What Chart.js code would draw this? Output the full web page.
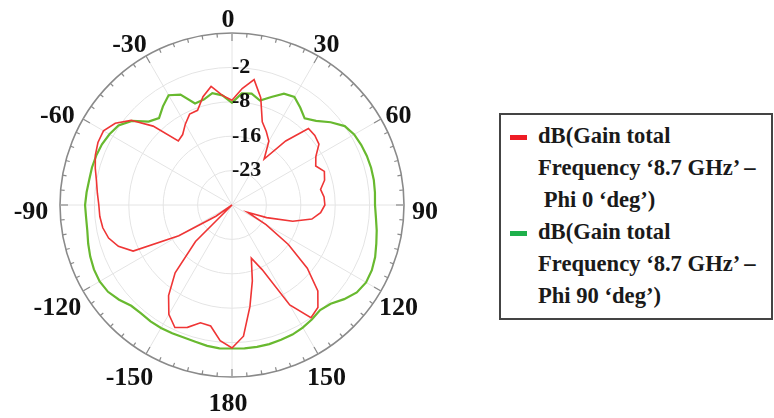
<!DOCTYPE html>
<html>
<head>
<meta charset="utf-8">
<script src="https://cdn.jsdelivr.net/npm/chart.js@4.4.0/dist/chart.umd.min.js"></script>
<style>
  html, body { margin: 0; padding: 0; background: #fff; }
  #wrap { position: relative; width: 774px; height: 418px; overflow: hidden; }
  #polar { position: absolute; left: 0; top: 0; }
  .legend {
    position: absolute; left: 499px; top: 113px; width: 274px; height: 207px;
    box-sizing: border-box; border: 2px solid #444; padding: 5px 0 0 37px;
    font-family: "Liberation Serif", "Times New Roman", serif; font-weight: bold;
    font-size: 22.6px; line-height: 32px; color: #1a1a1a; white-space: nowrap;
  }
  .swatch { position: absolute; left: 9px; width: 17px; height: 5px; }
</style>
</head>
<body>
<div id="wrap">
  <canvas id="polar" width="490" height="418"></canvas>
  <div class="legend" id="legend"></div>
</div>
<script>
// theta in degrees, 0 at top, clockwise
const angles = [0, 5, 10, 15, 20, 25, 30, 35, 40, 45, 50, 55, 60, 65, 70, 75, 80, 85,
  90, 95, 100, 105, 110, 115, 120, 125, 130, 135, 140, 145, 150, 155, 160, 165, 170, 175,
  180, 185, 190, 195, 200, 205, 210, 215, 220, 225, 230, 235, 240, 245, 250, 255, 260, 265,
  270, 275, 280, 285, 290, 295, 300, 305, 310, 315, 320, 325, 330, 335, 340, 345, 350, 355];

const angleLabels = ['0', '30', '60', '90', '120', '150', '180', '-150', '-120', '-90', '-60', '-30'];
const angleLabelAt = [0, 30, 60, 90, 120, 150, 180, 210, 240, 270, 300, 330];

const tickValues = [-23, -16, -9, -2];
const tickLabels = ['-23', '-16', '-8', '-2'];

// dB(Gain total) Phi 0
const phi0Gain = [-8.7, -6.2, -4.1, -7.4, -12.0, -13.5, -15.0, -18.6, -13.0, -8.0, -8.0, -8.4,
  -10.3, -11.2, -10.0, -10.5, -11.7, -11.2, -11.1, -11.9, -13.5, -17.2, -22.5, -26.5,
  -22.0, -16.0, -10.0, -5.3, -2.8, -2.0, -6.5, -15.5, -18.5, -14.0, -9.0, -3.2,
  -0.9, -2.3, -5.0, -5.2, -3.5, -2.5, -4.3, -7.5, -12.0, -19.5, -30.0, -26.0,
  -17.5, -7.8, -5.4, -4.0, -3.3, -3.0, -2.9, -2.5, -2.0, -1.2, -0.4, 0.1,
  0.2, -1.0, -3.2, -7.3, -13.0, -12.5, -11.0, -9.6, -9.5, -7.2, -5.5, -7.6];

// dB(Gain total) Phi 90
const phi90Gain = [-9.2, -7.2, -7.0, -8.0, -6.6, -5.0, -4.6, -5.8, -7.0, -5.8, -3.8, -2.0,
  -1.3, -1.0, -0.8, -0.7, -0.7, -0.8, -0.9, -0.6, -0.1, 0.4, 1.0, 1.4,
  1.5, 1.0, -0.2, -1.6, -2.1, -1.6, -1.2, -0.9, -0.8, -0.7, -0.7, -0.7,
  -0.8, -0.7, -0.9, -1.2, -1.3, -1.2, -1.1, -1.1, -1.2, -1.0, 0.0, 0.8,
  1.1, 1.0, 0.7, 0.3, -0.1, -0.2, -0.1, -0.3, -0.5, -0.5, -0.6, -0.8,
  -1.2, -1.8, -3.4, -6.0, -6.9, -5.5, -4.2, -5.2, -8.0, -7.8, -6.9, -7.6];

const seriesNames = [
  ['dB(Gain total', 'Frequency \u20188.7 GHz\u2019 \u2013', '\u00a0Phi 0 \u2018deg\u2019)'],
  ['dB(Gain total', 'Frequency \u20188.7 GHz\u2019 \u2013', 'Phi 90 \u2018deg\u2019)']
];
const lineColors = ['#ef3535', '#68b92f'];
const swatchColors = ['#ee1c25', '#1eb04b'];

// legend
const legend = document.getElementById('legend');
seriesNames.forEach((lines, k) => {
  const sw = document.createElement('div');
  sw.className = 'swatch';
  sw.style.background = swatchColors[k];
  sw.style.top = (20 + k * 96) + 'px';
  legend.appendChild(sw);
  lines.forEach(t => {
    const d = document.createElement('div');
    d.textContent = t;
    legend.appendChild(d);
  });
});

const polarDecor = {
  id: 'polarDecor',
  afterDraw(chart) {
    const s = chart.scales.r;
    const ctx = chart.ctx;
    const R = s.drawingArea;
    ctx.save();
    // small ticks on the outer ring every 5 deg
    ctx.strokeStyle = '#8a8a8a';
    ctx.lineWidth = 1.2;
    angles.forEach((a, i) => {
      const len = a % 30 === 0 ? 8 : 4;
      const p1 = s.getPointPosition(i, R);
      const p2 = s.getPointPosition(i, R - len);
      ctx.beginPath();
      ctx.moveTo(p1.x, p1.y);
      ctx.lineTo(p2.x, p2.y);
      ctx.stroke();
    });
    // angle labels (the original sits them on a slightly shifted ring)
    ctx.font = 'bold 26px "Liberation Serif"';
    ctx.fillStyle = '#111';
    ctx.textAlign = 'center';
    ctx.textBaseline = 'middle';
    angleLabels.forEach((t, k) => {
      const i = angles.indexOf(angleLabelAt[k]);
      const px = s.getPointPosition(i, R + 25);
      const py = s.getPointPosition(i, R + 20);
      ctx.fillText(t, px.x - 4, py.y + 7);
    });
    // radial tick labels
    ctx.font = 'bold 22px "Liberation Serif"';
    ctx.textAlign = 'left';
    tickValues.forEach((v, k) => {
      const p = s.getPointPositionForValue(0, v);
      ctx.fillText(tickLabels[k], p.x, p.y);
    });
    ctx.restore();
  }
};

new Chart(document.getElementById('polar'), {
  type: 'radar',
  data: {
    labels: angles,
    datasets: [
      { label: 'Phi 0', data: phi0Gain, borderColor: lineColors[0], borderWidth: 1.6,
        pointRadius: 0, fill: false, tension: 0 },
      { label: 'Phi 90', data: phi90Gain, borderColor: lineColors[1], borderWidth: 2.2,
        pointRadius: 0, fill: false, tension: 0 }
    ]
  },
  options: {
    responsive: false,
    animation: false,
    plugins: { legend: { display: false }, tooltip: { enabled: false } },
    scales: {
      r: {
        min: -30,
        max: 5,
        ticks: { display: false, stepSize: 7 },
        pointLabels: { display: false },
        grid: {
          circular: true,
          color: c => c.index === 5 ? '#8a8a8a' : '#e4e4e4',
          lineWidth: c => c.index === 5 ? 1.6 : 1
        },
        angleLines: {
          color: '#e4e4e4',
          lineWidth: c => (c.index % 6 === 0 ? 1 : 0)
        },
        afterFit: s => {
          s.xCenter = 232;
          s.yCenter = 205;
          s.drawingArea = 172;
        }
      }
    }
  },
  plugins: [polarDecor]
});
</script>
</body>
</html>
